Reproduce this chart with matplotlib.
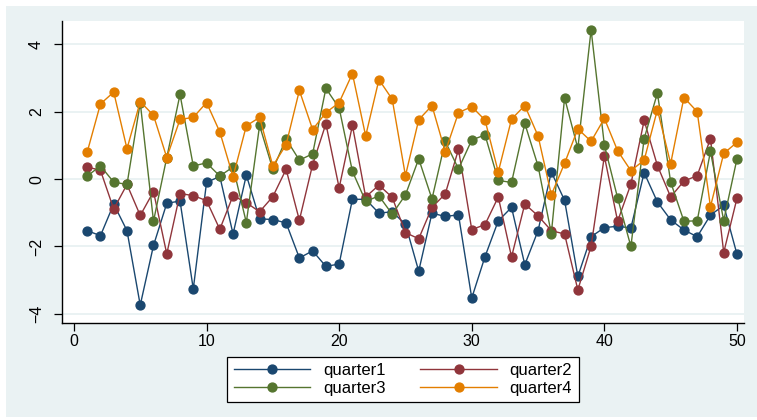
"""Cuatro series trimestrales (quarter1..quarter4) sobre 50 observaciones, estilo Stata s2color."""

import matplotlib

matplotlib.use("Agg")
import matplotlib.pyplot as plt  # noqa: E402
from matplotlib.patches import Rectangle  # noqa: E402

plt.rcParams["font.family"] = ["Liberation Sans", "DejaVu Sans"]

# Datos (x = 1..50).
obs = list(range(1, 51))

quarter1 = [-1.53, -1.68, -0.74, -1.53, -3.74, -1.97, -0.72, -0.65, -3.26, -0.10,
            0.08, -1.63, 0.12, -1.18, -1.20, -1.30, -2.34, -2.13, -2.59, -2.52,
            -0.60, -0.60, -1.01, -0.97, -1.34, -2.73, -1.01, -1.11, -1.06, -3.53,
            -2.30, -1.24, -0.84, -2.54, -1.53, 0.21, -0.63, -2.89, -1.71, -1.44,
            -1.40, -1.45, 0.19, -0.68, -1.21, -1.51, -1.71, -1.07, -0.78, -2.23]

quarter2 = [0.36, 0.26, -0.89, -0.16, -1.08, -0.37, -2.22, -0.43, -0.49, -0.64,
            -1.49, -0.49, -0.70, -0.97, -0.52, 0.29, -1.22, 0.43, 1.64, -0.26,
            1.59, -0.53, -0.18, -0.54, -1.59, -1.77, -0.84, -0.44, 0.88, -1.50,
            -1.35, -0.53, -2.31, -0.74, -1.09, -1.53, -1.63, -3.29, -1.99, 0.68,
            -1.25, -0.15, 1.74, 0.40, -0.53, -0.06, 0.10, 1.20, -2.18, -0.57]

quarter3 = [0.09, 0.39, -0.09, -0.16, 2.27, -1.25, 0.64, 2.51, 0.39, 0.48,
            0.09, 0.36, -1.29, 1.59, 0.29, 1.19, 0.56, 0.75, 2.69, 2.11,
            0.23, -0.66, -0.50, -1.04, -0.47, 0.60, -0.59, 1.12, 0.30, 1.16,
            1.31, -0.04, -0.10, 1.65, 0.39, -1.62, 2.41, 0.91, 4.43, 1.01,
            -0.56, -2.00, 1.20, 2.55, -0.09, -1.25, -1.24, 0.82, -1.23, 0.60]

quarter4 = [0.80, 2.23, 2.58, 0.90, 2.30, 1.89, 0.64, 1.77, 1.83, 2.27,
            1.40, 0.07, 1.58, 1.83, 0.39, 1.02, 2.63, 1.47, 1.97, 2.27,
            3.13, 1.28, 2.95, 2.37, 0.10, 1.76, 2.18, 0.81, 1.97, 2.15,
            1.75, 0.21, 1.78, 2.18, 1.28, -0.47, 0.47, 1.49, 1.12, 1.80,
            0.84, 0.25, 0.56, 2.06, 0.46, 2.42, 2.00, -0.82, 0.76, 1.09]

series = [("quarter1", quarter1, "#1a476f"),
          ("quarter2", quarter2, "#90353b"),
          ("quarter3", quarter3, "#55752f"),
          ("quarter4", quarter4, "#e37e00")]

W, H = 757, 420
BG = "#eaf2f3"

fig = plt.figure(figsize=(W / 100, H / 100), dpi=100, facecolor="white")
# región del gráfico (gris azulado), con un margen blanco arriba/izquierda
bg = Rectangle((6 / W, 3 / H), 1 - 6 / W, 1 - 9 / H, transform=fig.transFigure,
               facecolor=BG, edgecolor="none", zorder=-10)
fig.add_artist(bg)

ax = fig.add_axes([62 / W, 1 - 323 / H, (744 - 62) / W, (323 - 21) / H])
ax.set_facecolor("white")

handles = {}
for name, vals, color in series:
    (ln,) = ax.plot(obs, vals, color=color, lw=1.0, marker="o", ms=6.4,
                    mec=color, mfc=color, label=name, zorder=3)
    handles[name] = ln

ax.set_xlim(-0.9, 50.53)
ax.set_ylim(-4.27, 4.69)
ax.set_xticks([0, 10, 20, 30, 40, 50])
ax.set_yticks([-4, -2, 0, 2, 4])
ax.grid(axis="y", color=BG, lw=1.4, zorder=0)
ax.set_axisbelow(True)

for s in ("top", "right"):
    ax.spines[s].set_visible(False)
for s in ("left", "bottom"):
    ax.spines[s].set_linewidth(1.0)
    ax.spines[s].set_color("black")

ax.tick_params(axis="both", direction="out", length=6, width=0.9,
               labelsize=11.5, color="black")
ax.tick_params(axis="y", pad=7)
ax.tick_params(axis="x", pad=2)
for lab in ax.get_yticklabels():
    lab.set_rotation(90)
    lab.set_va("center")

# ncol=2 llena por columnas: reordenar para que las filas sean q1 q2 / q3 q4
order = ["quarter1", "quarter3", "quarter2", "quarter4"]
leg = fig.legend([handles[n] for n in order], order, loc="center",
                 bbox_to_anchor=(403 / W, 1 - 379.5 / H), ncol=2,
                 frameon=True, fancybox=False, edgecolor="black",
                 facecolor="white", framealpha=1.0,
                 fontsize=12, handlelength=4.6, columnspacing=2.1,
                 handletextpad=0.75, borderpad=0.4, labelspacing=0.15)
leg.get_frame().set_linewidth(0.9)

fig.savefig("out.png", dpi=100, facecolor=fig.get_facecolor())
